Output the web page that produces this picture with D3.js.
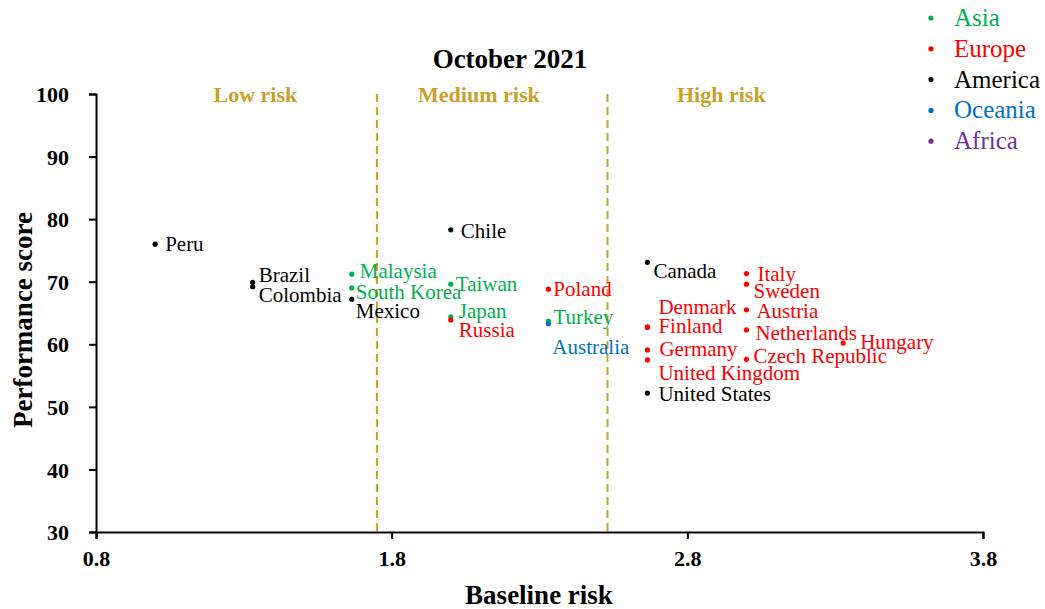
<!DOCTYPE html>
<html><head><meta charset="utf-8">
<script src="https://cdn.jsdelivr.net/npm/d3@7"></script>
<style>body{margin:0;background:#fff}text{font-family:"Liberation Serif","Times New Roman",serif}</style>
</head><body><svg id="c" width="1045" height="609" font-family="Liberation Serif, serif"></svg>
<script>
const countries = ["Peru","Brazil","Colombia","Malaysia","South Korea","Mexico","Chile","Taiwan","Japan","Russia","Poland","Turkey","Australia","Canada","Italy","Sweden","Austria","Netherlands","Czech Republic","Hungary","Denmark","Finland","Germany","United Kingdom","United States"];
const regions = ["America","America","America","Asia","Asia","America","America","Asia","Asia","Europe","Europe","Asia","Oceania","America","Europe","Europe","Europe","Europe","Europe","Europe","Europe","Europe","Europe","Europe","America"];
const baselineRisk = [1.0,1.33,1.33,1.665,1.665,1.665,2.0,2.0,2.0,2.0,2.33,2.33,2.33,2.665,3.0,3.0,3.0,3.0,3.0,3.327,2.665,2.665,2.665,2.665,2.665];
const performance = [76.0,69.9,69.2,71.2,69.0,67.2,78.3,69.6,64.4,63.9,68.8,63.7,63.3,73.1,71.3,69.6,65.5,62.3,57.6,60.2,62.8,62.7,59.1,57.5,52.2];
const legendRegions = ["Asia","Europe","America","Oceania","Africa"];
const regionColors = ["#00b050","#ff0000","#000000","#0070c0","#7030a0"];
const xTicks = [0.8,1.8,2.8,3.8];
const yTicks = [30,40,50,60,70,80,90,100];
const riskThresholds = [1.75,2.53];
const riskZones = ["Low risk","Medium risk","High risk"];
const riskZoneLabelAt = [1.339,2.095,2.915];
// label offsets in px [dx, dy] relative to point (layout only)
const labelOffsets = {"Peru":[10,7],"Brazil":[6,0],"Colombia":[6,15],"Malaysia":[8,4],"South Korea":[4,11],"Mexico":[4,19],"Chile":[10,8],"Taiwan":[5,7],"Japan":[8,1],"Russia":[8,17],"Poland":[5,7],"Turkey":[5,3],"Australia":[4,30],"Canada":[6,16],"Italy":[11,7],"Sweden":[7,14],"Austria":[10,8],"Netherlands":[9,10],"Czech Republic":[7,4],"Hungary":[17,6],"Denmark":[11,-13],"Finland":[11,6],"Germany":[12,6],"United Kingdom":[11,20],"United States":[11,8]};

const FONT = "Liberation Serif, Times New Roman, serif";
const svg = d3.select("#c");
const x = d3.scaleLinear().domain([0.8,3.8]).range([96,983]);
const y = d3.scaleLinear().domain([30,100]).range([532,94]);
const color = d3.scaleOrdinal().domain(legendRegions).range(regionColors);
const gold = "#c8a02a";

// dashed risk lines
svg.selectAll("line.risk").data(riskThresholds).join("line")
  .attr("x1",d=>x(d)).attr("x2",d=>x(d)).attr("y1",y(100)).attr("y2",y(30))
  .attr("stroke",gold).attr("stroke-width",2).attr("stroke-dasharray","8,5");
svg.selectAll("text.zone").data(riskZones).join("text")
  .attr("x",(d,i)=>x(riskZoneLabelAt[i])).attr("y",y(100)+8)
  .attr("text-anchor","middle").attr("fill",gold).attr("font-weight","bold").attr("font-size",22)
  .attr("font-family",FONT).text(d=>d);

// axes
const xa = svg.append("g").attr("transform",`translate(0,${y(30)})`)
  .call(d3.axisBottom(x).tickValues(xTicks).tickFormat(d3.format(".1f")).tickSizeOuter(0).tickSize(7));
const ya = svg.append("g").attr("transform",`translate(${x(0.8)},0)`)
  .call(d3.axisLeft(y).tickValues(yTicks).tickSizeOuter(0).tickSize(7).tickPadding(20));
[xa,ya].forEach(g=>{
  g.attr("font-family",FONT);
  g.select(".domain").attr("stroke","#000").attr("stroke-width",2);
  g.selectAll(".tick line").attr("stroke","#000").attr("stroke-width",2);
  g.selectAll(".tick text").attr("font-family",FONT).attr("font-size",22).attr("font-weight","bold").attr("fill","#000");
});
xa.selectAll(".tick text").attr("y",34).attr("dy",0);
ya.selectAll(".tick text").attr("dy","0.35em");

// titles
svg.append("text").attr("x",510).attr("y",68).attr("text-anchor","middle").attr("font-family",FONT)
  .attr("font-weight","bold").attr("font-size",27).text("October 2021");
svg.append("text").attr("x",539).attr("y",604).attr("text-anchor","middle").attr("font-family",FONT)
  .attr("font-weight","bold").attr("font-size",27).text("Baseline risk");
svg.append("text").attr("transform","translate(32,320) rotate(-90)").attr("text-anchor","middle").attr("font-family",FONT)
  .attr("font-weight","bold").attr("font-size",27).text("Performance score");

// points
const data = countries.map((c,i)=>({name:c,region:regions[i],x:baselineRisk[i],y:performance[i]}));
svg.selectAll("circle.pt").data(data).join("circle")
  .attr("cx",d=>x(d.x)).attr("cy",d=>y(d.y)).attr("r",2.6).attr("fill",d=>color(d.region));
svg.selectAll("text.lbl").data(data).join("text")
  .attr("x",d=>x(d.x)+labelOffsets[d.name][0]).attr("y",d=>y(d.y)+labelOffsets[d.name][1])
  .attr("font-family",FONT).attr("font-size",21).attr("fill",d=>color(d.region)).text(d=>d.name);

// legend
const lg = svg.append("g");
lg.selectAll("circle").data(legendRegions).join("circle")
  .attr("cx",931).attr("cy",(d,i)=>18+i*30.8).attr("r",2.6).attr("fill",d=>color(d));
lg.selectAll("text").data(legendRegions).join("text")
  .attr("x",954).attr("y",(d,i)=>18+i*30.8+8).attr("font-family",FONT).attr("font-size",25).attr("fill",d=>color(d)).text(d=>d);
</script></body></html>
